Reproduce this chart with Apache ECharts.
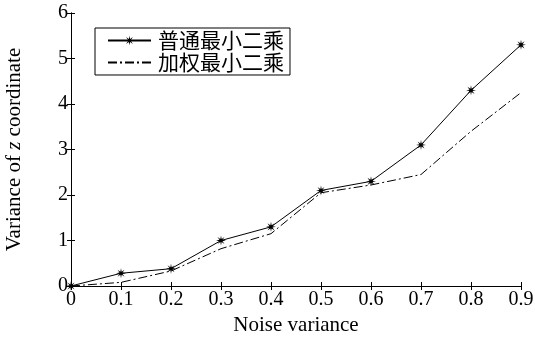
<!DOCTYPE html>
<html>
<head>
<meta charset="utf-8">
<script src="https://cdn.jsdelivr.net/npm/echarts@6/dist/echarts.min.js"></script>
<style>
html, body { margin: 0; padding: 0; background: #fff; }
#chart { width: 535px; height: 338px; }
</style>
</head>
<body>
<div id="chart"></div>
<script>
// 噪声方差
var noiseVar = [0, 0.1, 0.2, 0.3, 0.4, 0.5, 0.6, 0.7, 0.8, 0.9];
// 普通最小二乘
var olsVar = [0, 0.28, 0.38, 1.0, 1.3, 2.1, 2.3, 3.1, 4.3, 5.3];
// 加权最小二乘
var wlsVar = [0, 0.08, 0.33, 0.82, 1.15, 2.05, 2.22, 2.45, 3.4, 4.25];
var seriesNames = ['普通最小二乘', '加权最小二乘'];

function pairs(ys) {
    var out = [];
    for (var i = 0; i < noiseVar.length; i++) {
        out.push([noiseVar[i], ys[i]]);
    }
    return out;
}

var chart = echarts.init(document.getElementById('chart'));

// 星号标记
var starPath = 'path://M10 0 L11.3 6.9 L17.07 2.93 L13.1 8.7 L20 10 L13.1 11.3 L17.07 17.07 L11.3 13.1 L10 20 L8.7 13.1 L2.93 17.07 L6.9 11.3 L0 10 L6.9 8.7 L2.93 2.93 L8.7 6.9 Z';
var serif = '"Liberation Serif", "Times New Roman", serif';

var option = {
    backgroundColor: '#fff',
    animation: false,
    grid: {
        left: 71, right: 14, top: 13, bottom: 52,
        outerBoundsMode: 'none',
        containLabel: false
    },
    legend: {
        orient: 'vertical',
        left: 95,
        top: 28,
        data: [
            { name: seriesNames[0] },
            { name: seriesNames[1], itemStyle: { opacity: 0 } }
        ],
        borderColor: '#000',
        borderWidth: 1,
        borderRadius: 0,
        padding: [2, 6, 2, 12],
        itemGap: 1,
        itemWidth: 43,
        itemHeight: 12,
        textStyle: {
            fontFamily: '"Noto Sans CJK SC", sans-serif',
            fontSize: 21,
            color: '#000',
            padding: [0, 0, 0, 2]
        }
    },
    xAxis: [{
        type: 'value',
        min: 0, max: 0.9, interval: 0.1,
        name: 'Noise variance',
        nameLocation: 'middle',
        nameGap: 24,
        nameTextStyle: { fontFamily: serif, fontSize: 21, color: '#000' },
        axisLine: { lineStyle: { color: '#000', width: 1 } },
        axisTick: { inside: true, length: 4, lineStyle: { color: '#000' } },
        axisLabel: {
            fontFamily: serif, fontSize: 20, color: '#000', margin: 4,
            formatter: function (v) { return +v.toFixed(1) + ''; }
        },
        splitLine: { show: false }
    }, {
        type: 'value',
        position: 'top',
        min: 0, max: 0.9, interval: 0.1,
        axisLine: { show: true, lineStyle: { color: '#000', width: 1 } },
        axisTick: { inside: true, length: 4, lineStyle: { color: '#000' } },
        axisLabel: { show: false },
        splitLine: { show: false }
    }],
    yAxis: [{
        type: 'value',
        min: 0, max: 6, interval: 1,
        name: '{a|Variance of }{b|z}{a| coordinate}',
        nameLocation: 'middle',
        nameGap: 46,
        nameTextStyle: {
            rich: {
                a: { fontFamily: serif, fontSize: 21, color: '#000' },
                b: { fontFamily: serif, fontSize: 21, color: '#000', fontStyle: 'italic' }
            }
        },
        axisLine: { show: true, lineStyle: { color: '#000', width: 1 } },
        axisTick: { inside: true, length: 4, lineStyle: { color: '#000' } },
        axisLabel: { fontFamily: serif, fontSize: 20, color: '#000', margin: 3 },
        splitLine: { show: false }
    }, {
        type: 'value',
        position: 'right',
        min: 0, max: 6, interval: 1,
        axisLine: { show: true, lineStyle: { color: '#000', width: 1 } },
        axisTick: { inside: true, length: 4, lineStyle: { color: '#000' } },
        axisLabel: { show: false },
        splitLine: { show: false }
    }],
    series: [{
        name: seriesNames[0],
        type: 'line',
        data: pairs(olsVar),
        symbol: starPath,
        symbolSize: 10,
        itemStyle: { color: '#000' },
        lineStyle: { color: '#000', width: 1 }
    }, {
        name: seriesNames[1],
        type: 'line',
        data: pairs(wlsVar),
        symbol: 'none',
        itemStyle: { color: '#000' },
        lineStyle: { color: '#000', width: 1, type: [9, 3, 2, 3] }
    }]
};

chart.setOption(option);
</script>
</body>
</html>
